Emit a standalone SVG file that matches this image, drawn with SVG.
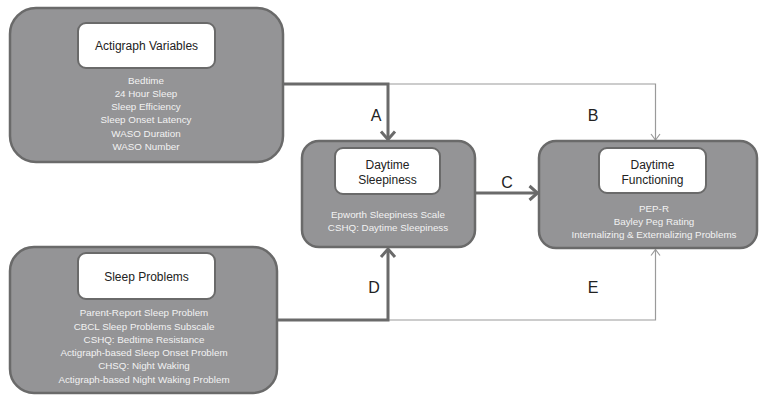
<svg xmlns="http://www.w3.org/2000/svg" width="760" height="397" viewBox="0 0 760 397">
<style>
.outer{fill:#949496;stroke:#6a6a6a;stroke-width:2.5}
.inner{fill:#ffffff;stroke:#6a6a6a;stroke-width:2}
.title{font-family:"Liberation Sans",Arial,sans-serif;font-size:12px;fill:#222;text-anchor:middle}
.item{font-family:"Liberation Sans",Arial,sans-serif;font-size:9.8px;fill:#f2f2f2;text-anchor:middle}
.lab{font-family:"Liberation Sans",Arial,sans-serif;font-size:16px;fill:#222;text-anchor:middle}
.thick{fill:none;stroke:#6a6a6a;stroke-width:3}
.thin{fill:none;stroke:#9a9a9a;stroke-width:1.2}
</style>
<defs>
<marker id="ah" markerUnits="userSpaceOnUse" markerWidth="20" markerHeight="20" viewBox="-10 -10 20 20" refX="0" refY="0" orient="auto">
<path d="M-8,-7 L0,0 L-8,7" fill="none" stroke="#6a6a6a" stroke-width="3"/>
</marker>
<marker id="ahs" markerUnits="userSpaceOnUse" markerWidth="14" markerHeight="14" viewBox="-7 -7 14 14" refX="0" refY="0" orient="auto">
<path d="M-6,-4.5 L0,0 L-6,4.5" fill="none" stroke="#9a9a9a" stroke-width="1.2"/>
</marker>
</defs>
<g id="connectors">
<path class="thin" d="M388,84 H655.5 V140" marker-end="url(#ahs)"/>
<path class="thin" d="M388,320 H655.5 V249.5" marker-end="url(#ahs)"/>
<path class="thick" d="M283,84 H388 V139.5" marker-end="url(#ah)"/>
<path class="thick" d="M276,320 H388 V249" marker-end="url(#ah)"/>
<path class="thick" d="M475,193 H537.5" marker-end="url(#ah)"/>
<text class="lab" x="376" y="121">A</text>
<text class="lab" x="593" y="121">B</text>
<text class="lab" x="507" y="188">C</text>
<text class="lab" x="374" y="293">D</text>
<text class="lab" x="593" y="293">E</text>
</g>
<g id="actigraph">
<rect class="outer" x="10" y="8" width="273" height="154" rx="26"/>
<rect class="inner" x="78" y="23" width="137" height="45" rx="8"/>
<text class="title" x="146.5" y="50">Actigraph Variables</text>
<text class="item" x="146" y="83.5">Bedtime</text>
<text class="item" x="146" y="96.8">24 Hour Sleep</text>
<text class="item" x="146" y="110.1">Sleep Efficiency</text>
<text class="item" x="146" y="123.4">Sleep Onset Latency</text>
<text class="item" x="146" y="136.7">WASO Duration</text>
<text class="item" x="146" y="150">WASO Number</text>
</g>
<g id="sleepiness">
<rect class="outer" x="302" y="141" width="173" height="106" rx="17"/>
<rect class="inner" x="335" y="148" width="105" height="46" rx="8"/>
<text class="title" x="387.5" y="168.5">Daytime</text>
<text class="title" x="387.5" y="184">Sleepiness</text>
<text class="item" x="388" y="217.5">Epworth Sleepiness Scale</text>
<text class="item" x="388" y="231">CSHQ: Daytime  Sleepiness</text>
</g>
<g id="functioning">
<rect class="outer" x="539" y="141" width="218" height="107" rx="17"/>
<rect class="inner" x="599" y="148" width="107" height="45" rx="8"/>
<text class="title" x="652.5" y="168.5">Daytime</text>
<text class="title" x="652.5" y="184">Functioning</text>
<text class="item" x="654" y="212">PEP-R</text>
<text class="item" x="654" y="225">Bayley Peg Rating</text>
<text class="item" x="654" y="238">Internalizing &amp; Externalizing Problems</text>
</g>
<g id="sleepproblems">
<rect class="outer" x="10" y="247" width="267" height="146" rx="24"/>
<rect class="inner" x="78" y="253" width="137" height="46" rx="8"/>
<text class="title" x="146.5" y="280.5">Sleep Problems</text>
<text class="item" x="144" y="316.2">Parent-Report Sleep Problem</text>
<text class="item" x="144" y="329.5">CBCL Sleep Problems Subscale</text>
<text class="item" x="144" y="342.8">CSHQ: Bedtime  Resistance</text>
<text class="item" x="144" y="356.1">Actigraph-based Sleep Onset Problem</text>
<text class="item" x="144" y="369.4">CHSQ: Night  Waking</text>
<text class="item" x="144" y="382.7">Actigraph-based Night  Waking Problem</text>
</g>
</svg>
